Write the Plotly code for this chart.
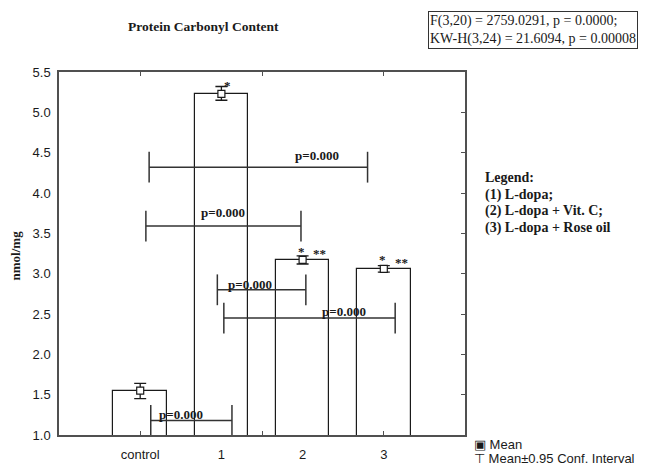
import plotly.graph_objects as go

# ---- data ----
categories = ["control", "1", "2", "3"]
cat_pos = [0, 1, 2, 3]
means = [1.55, 5.23, 3.17, 3.06]
ci_low = [1.45, 5.15, 3.12, 3.02]
ci_high = [1.64, 5.32, 3.22, 3.10]

y_tick_vals = [1.0, 1.5, 2.0, 2.5, 3.0, 3.5, 4.0, 4.5, 5.0, 5.5]
y_tick_text = ["1.0", "1.5", "2.0", "2.5", "3.0", "3.5", "4.0", "4.5", "5.0", "5.5"]

# significance brackets
br_x0 = [0.11, 0.07, 0.95, 1.03, 0.13]
br_x1 = [2.80, 1.98, 2.04, 3.14, 1.13]
br_y = [4.32, 3.59, 2.80, 2.45, 1.18]
br_label = ["p=0.000"] * 5
br_label_x = [2.18, 1.02, 1.35, 2.51, 0.50]
br_label_y = [4.47, 3.76, 2.87, 2.53, 1.26]

# asterisk marks
star_text = ["*", "*", "**", "*", "**"]
star_x = [1.08, 1.99, 2.21, 2.99, 3.22]
star_y = [5.33, 3.28, 3.25, 3.17, 3.14]

title_text = "Protein Carbonyl Content"
stats_text = "F(3,20) = 2759.0291, p = 0.0000;<br>KW-H(3,24) = 21.6094, p = 0.00008"
legend_lines = ["Legend:", "(1) L-dopa;", "(2) L-dopa + Vit. C;", "(3) L-dopa + Rose oil"]
y_title = "nmol/mg"

SERIF = "Liberation Serif"
SANS = "Liberation Sans"
AX = "#505050"
INK = "#1a1a1a"

fig = go.Figure()

fig.add_trace(go.Bar(
    x=cat_pos, y=means, width=0.66,
    marker=dict(color="white", line=dict(color=INK, width=1.2)),
    showlegend=False, hoverinfo="skip"))

for x0, x1, yb in zip(br_x0, br_x1, br_y):
    fig.add_trace(go.Scatter(
        x=[x0, x1], y=[yb, yb], mode="lines+markers",
        line=dict(color="#333333", width=1.5),
        marker=dict(symbol="line-ns", size=22, line=dict(color="#333333", width=1.5)),
        showlegend=False, hoverinfo="skip"))

fig.add_trace(go.Scatter(
    x=cat_pos, y=means, mode="markers",
    error_y=dict(type="data", symmetric=False,
                 array=[h - m for h, m in zip(ci_high, means)],
                 arrayminus=[m - l for m, l in zip(means, ci_low)],
                 color=INK, thickness=1.3, width=6),
    marker=dict(symbol="square", size=7, color="white", line=dict(color=INK, width=1.2)),
    showlegend=False, hoverinfo="skip"))

# invisible trace so the overlay tick axes are drawn
fig.add_trace(go.Scatter(x=[0], y=[1.0], xaxis="x2", yaxis="y2", mode="markers",
                         marker=dict(opacity=0), showlegend=False, hoverinfo="skip"))

for t, x, y in zip(br_label, br_label_x, br_label_y):
    fig.add_annotation(x=x, y=y, text=t, showarrow=False, yanchor="middle",
                       font=dict(family=SERIF, size=13, color=INK, weight="bold"))

for t, x, y in zip(star_text, star_x, star_y):
    fig.add_annotation(x=x, y=y, text=t, showarrow=False, yanchor="middle",
                       font=dict(family=SERIF, size=13, color=INK, weight="bold"))

fig.add_annotation(xref="paper", yref="paper", x=0.355, y=1.1245, xanchor="center",
                   yanchor="middle", text=title_text, showarrow=False,
                   font=dict(family=SERIF, size=13.5, color=INK, weight="bold"))

fig.add_annotation(xref="paper", yref="paper", x=0.909, y=1.1667, xanchor="left", yanchor="top",
                   text=stats_text, showarrow=False, align="left",
                   bordercolor="#333333", borderwidth=1, borderpad=1, bgcolor="white",
                   font=dict(family=SERIF, size=14, color=INK))

for i, line in enumerate(legend_lines):
    fig.add_annotation(xref="paper", yref="paper", x=1.044, y=0.7084 - i * 0.0462,
                       xanchor="left", yanchor="middle", text=line, showarrow=False,
                       align="left",
                       font=dict(family=SERIF, size=14, color=INK, weight="bold"))

fig.add_annotation(xref="paper", yref="paper", x=-0.108, y=0.495, xanchor="center",
                   yanchor="middle", text=y_title, textangle=-90, showarrow=False,
                   font=dict(family=SERIF, size=13, color=INK, weight="bold"))

fig.add_annotation(xref="paper", yref="paper", x=1.017, y=-0.0256, xanchor="left",
                   yanchor="middle", text="\u25a3 Mean", showarrow=False, align="left",
                   font=dict(family=SANS, size=13, color=INK))
fig.add_annotation(xref="paper", yref="paper", x=1.017, y=-0.065, xanchor="left",
                   yanchor="middle", text="\u22a4 Mean\u00b10.95 Conf. Interval",
                   showarrow=False, align="left",
                   font=dict(family=SANS, size=13, color=INK))

fig.update_layout(
    width=649, height=466,
    margin=dict(l=51, r=192, t=64, b=23),
    paper_bgcolor="white", plot_bgcolor="white",
    bargap=0,
    xaxis=dict(range=[-1, 4], tickvals=cat_pos, ticktext=categories, ticks="",
               showgrid=False, zeroline=False, showline=True, mirror=True,
               linecolor=AX, linewidth=1.5, ticklabelstandoff=7,
               tickfont=dict(family=SANS, size=13, color=INK)),
    yaxis=dict(range=[1.0, 5.5], tickvals=y_tick_vals, ticktext=y_tick_text, ticks="",
               showgrid=False, zeroline=False, showline=True, mirror=True,
               linecolor=AX, linewidth=1.5, ticklabelstandoff=4,
               tickfont=dict(family=SANS, size=13, color=INK)),
    xaxis2=dict(range=[-1, 4], overlaying="x", anchor="y", side="bottom",
                tickvals=[0, 1.5, 3], ticks="inside", ticklen=4, tickcolor=AX, tickwidth=1.2,
                showticklabels=False, showgrid=False, zeroline=False,
                showline=True, linecolor=AX, linewidth=1.5, mirror="allticks"),
    yaxis2=dict(range=[1.0, 5.5], overlaying="y", anchor="x", side="right",
                tickvals=[1.5, 2.0, 2.5, 3.0, 3.5, 4.0, 4.5, 5.0], ticks="inside", ticklen=4,
                tickcolor=AX, tickwidth=1.2, showticklabels=False, showgrid=False,
                zeroline=False, showline=True, linecolor=AX, linewidth=1.5),
)

fig.write_html("out.html")
